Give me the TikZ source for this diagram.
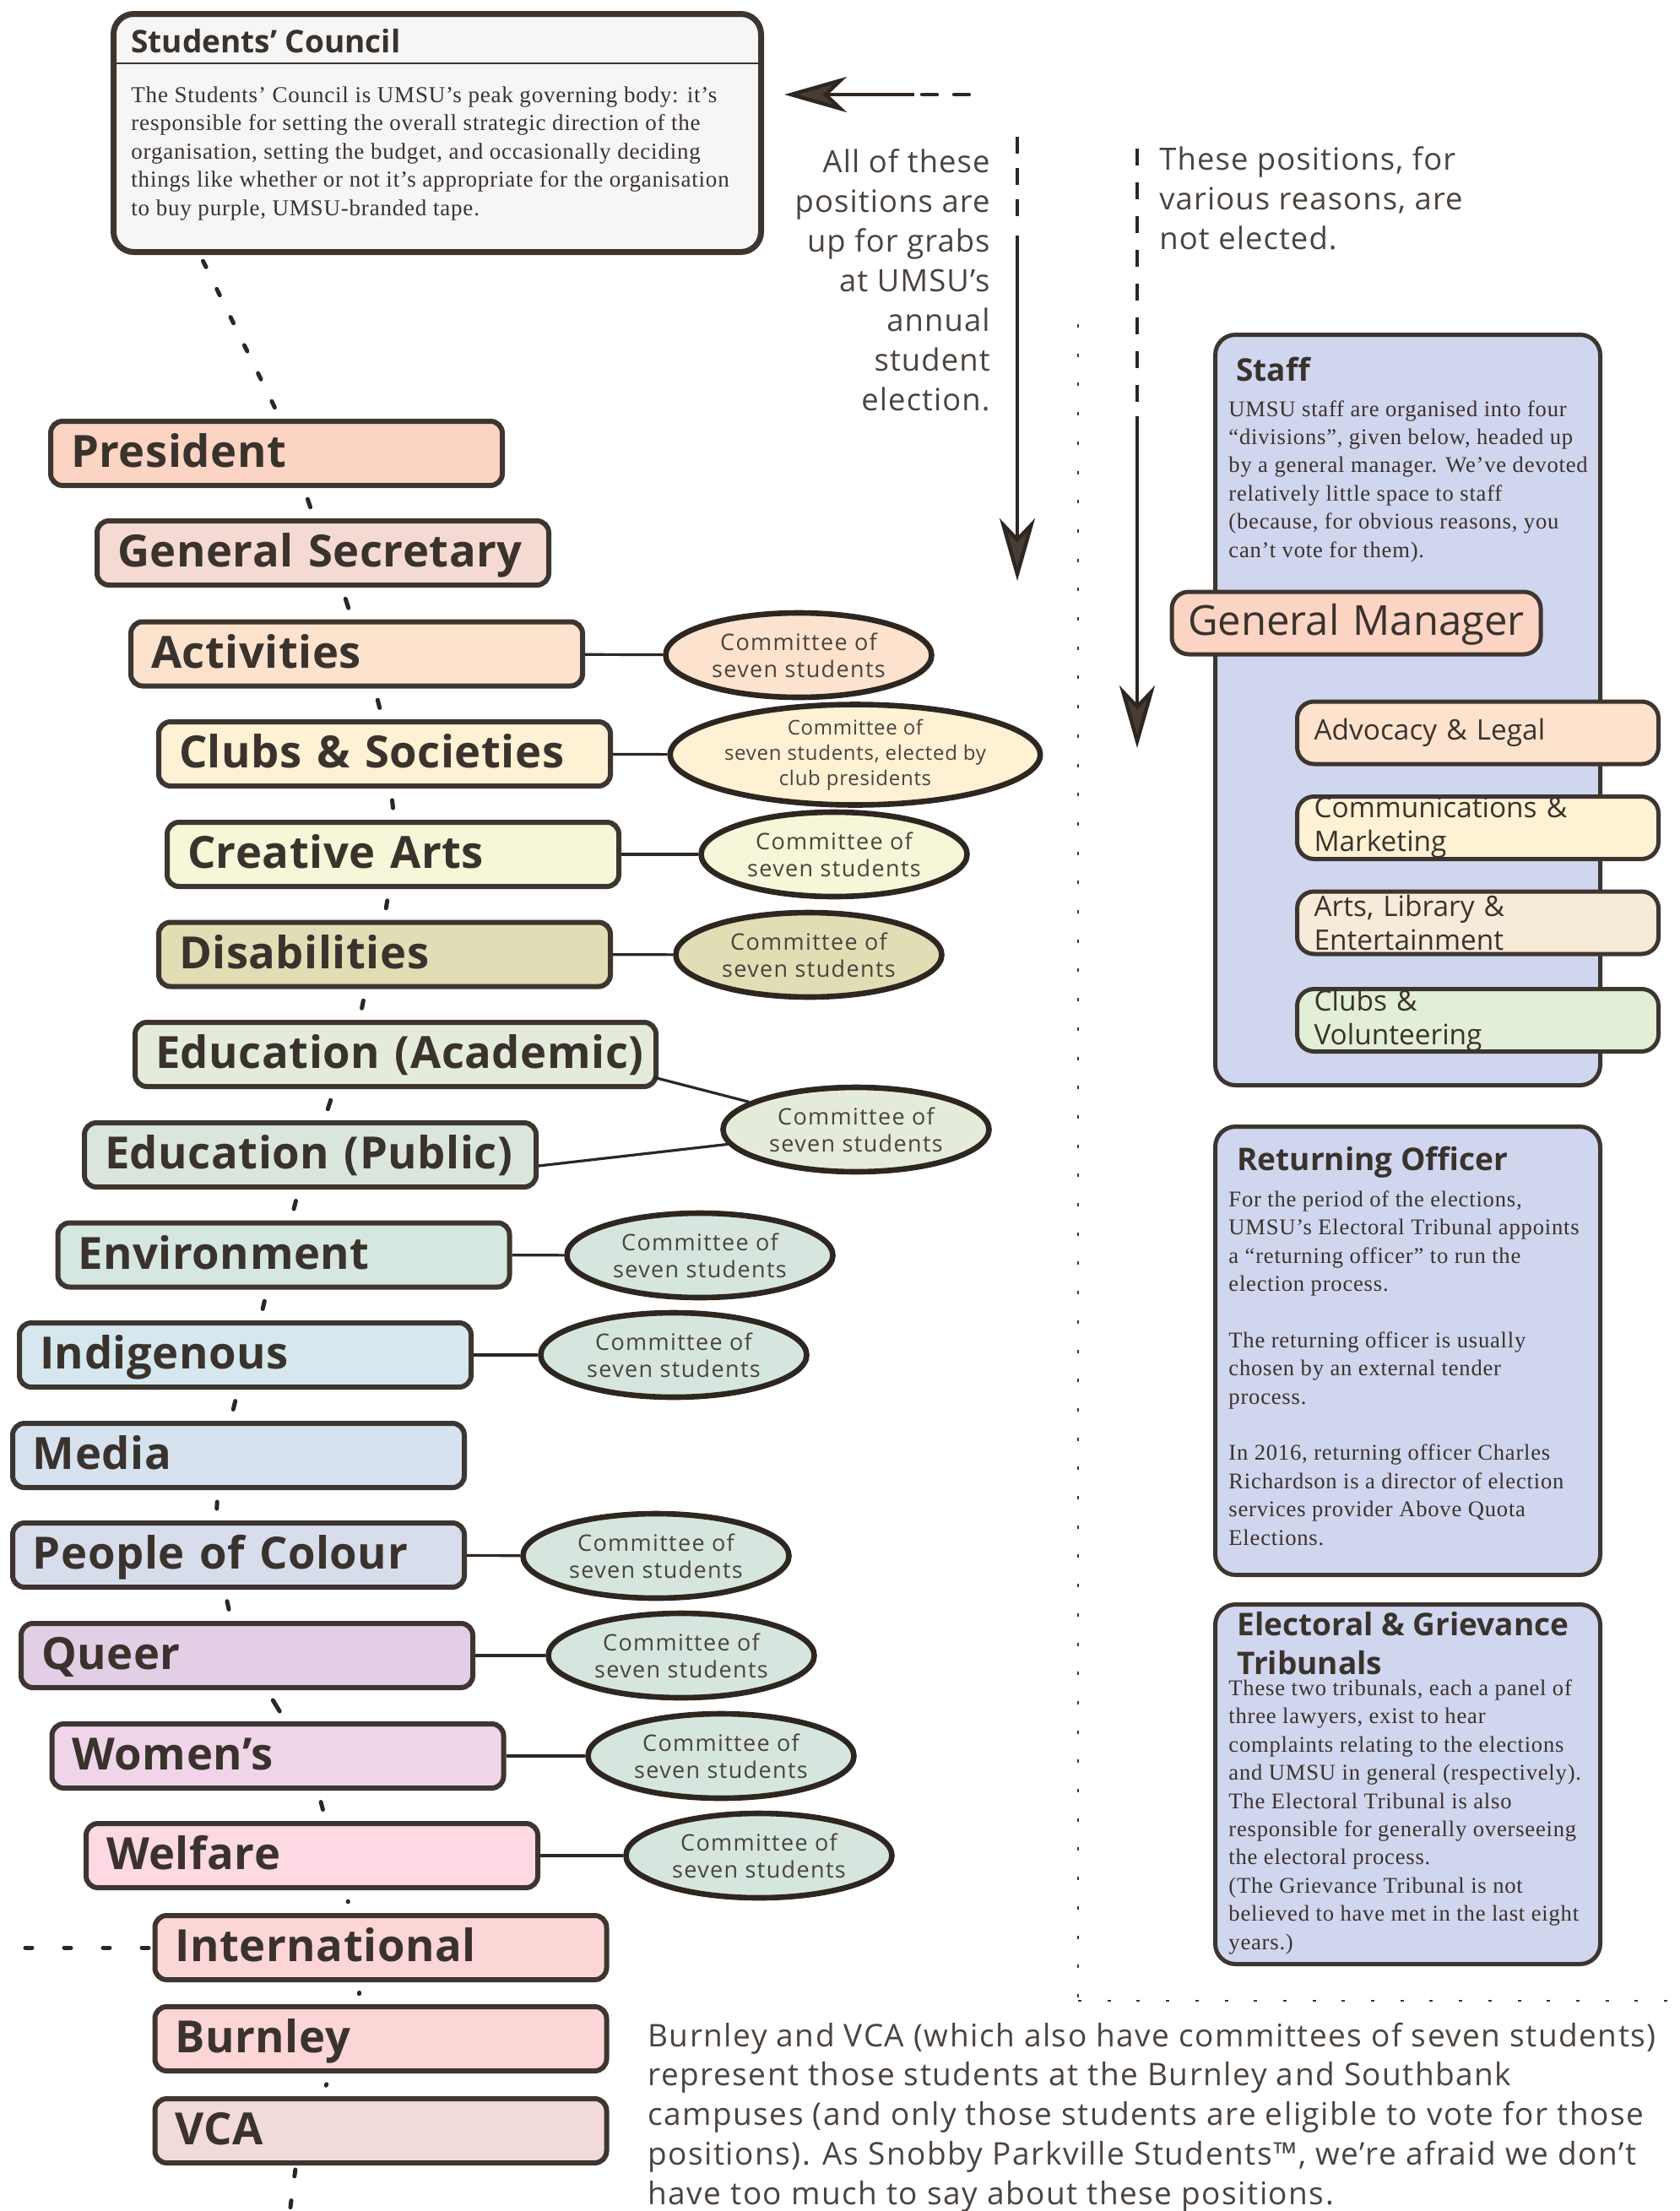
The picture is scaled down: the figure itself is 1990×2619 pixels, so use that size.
\documentclass[tikz,border=0pt]{standalone}
\usepackage{fontspec}
\setmainfont{Liberation Serif}
\newfontfamily\lab{Open Sans}
\newfontfamily\labb{Open Sans}[LetterSpace=1]
\newfontfamily\labw{Open Sans}[LetterSpace=3]
\newfontfamily\labe{Open Sans}[LetterSpace=5]
\newfontfamily\labp{Open Sans}[LetterSpace=4]
\newfontfamily\serw{Liberation Serif}[LetterSpace=3]
\usetikzlibrary{arrows.meta,calc,shapes.geometric}
\definecolor{dk}{HTML}{3D3530}
\definecolor{dkk}{HTML}{2E2620}
\definecolor{txt}{HTML}{3A322D}
\definecolor{ltxt}{HTML}{4A433E}
\definecolor{headc}{HTML}{463D35}
\definecolor{cCouncil}{HTML}{F6F6F6}
\definecolor{cPres}{HTML}{FCD4C4}
\definecolor{cGS}{HTML}{F4DAD2}
\definecolor{cAct}{HTML}{FDE3CD}
\definecolor{cClubs}{HTML}{FFF1D4}
\definecolor{cCreat}{HTML}{F6F6D8}
\definecolor{cDis}{HTML}{E1DEB5}
\definecolor{cEduA}{HTML}{E5EBDA}
\definecolor{cEduP}{HTML}{DAE6DC}
\definecolor{cEnv}{HTML}{D6E6E0}
\definecolor{cInd}{HTML}{D6E8EE}
\definecolor{cMed}{HTML}{D6E3EF}
\definecolor{cPoC}{HTML}{D7DDEA}
\definecolor{cQueer}{HTML}{E2CFE6}
\definecolor{cWom}{HTML}{F0D5E9}
\definecolor{cWel}{HTML}{FDD9E3}
\definecolor{cIntl}{HTML}{FCD6D6}
\definecolor{cVCA}{HTML}{F2D9DA}
\definecolor{cTeal}{HTML}{D6E6DF}
\definecolor{cBlue}{HTML}{D0D6EE}
\definecolor{cArts}{HTML}{F6EBD9}
\definecolor{cVol}{HTML}{E3EED6}
\tikzset{
  pbox/.style={draw=dk, line width=3pt, rounded corners=7pt, minimum height=38pt,
    inner xsep=12pt, inner ysep=0pt, text width=#1, align=left, text height=21.5pt, text depth=5pt,
    font=\labb\bfseries\fontsize{26.3}{30}\selectfont, text=txt},
  pbox/.default=243.5pt,
  comm/.style={ellipse, draw=dkk, line width=3.3pt, minimum width=157.5pt, minimum height=50pt,
    inner sep=0pt, align=center, font=\labe\fontsize{13.5}{16}\selectfont, text=ltxt},
  link/.style={draw=dkk, line width=1.6pt},
  gapd/.style={draw=dkk, line width=2.5pt, line cap=round, shorten <=7pt, shorten >=7pt},
  chain/.style={draw=dkk, line width=2.5pt, line cap=round, dash pattern=on 4pt off 14.5pt, dash phase=14.5pt},
  dotsep/.style={draw=dk, line width=1pt, dash pattern=on 2pt off 15.35pt},
  arr/.style={draw=dkk, line width=2.2pt},
  bighead/.style={-{Stealth[length=37pt, width=21pt, inset=11pt, fill=headc]}},
  bbox/.style={draw=dk, line width=2.5pt, rounded corners=12pt, fill=cBlue, inner sep=0pt},
  ttl/.style={anchor=base west, inner sep=0pt, font=\lab\bfseries\fontsize{18.5}{23}\selectfont, text=txt, align=left},
  body/.style={anchor=base west, inner sep=0pt, font=\serw\fontsize{13.3}{16.7}\selectfont, text=txt, align=left},
  dbox/.style={draw=dk, line width=2.5pt, rounded corners=10pt, minimum height=37pt, inner xsep=10pt, inner ysep=0pt,
    text width=194pt, align=left, font=\lab\fontsize{16.7}{20}\selectfont, text=txt},
  note/.style={inner sep=0pt, font=\labw\fontsize{18.2}{23.5}\selectfont, text=ltxt}
}
\begin{document}
\begin{tikzpicture}[x=0.5pt, y=-0.5pt]
\useasboundingbox (0,0) rectangle (1990,2619);

% Students' Council
\node[draw=dk, line width=3.5pt, rounded corners=12pt, fill=cCouncil, minimum width=383.5pt, minimum height=141pt, inner sep=0pt] (council) at (518,157.5) {};
\coordinate (hsep) at (0,75);
\draw[dk, line width=1.2pt] (council.west |- hsep) -- (council.east |- hsep);
\node[ttl] (counciltitle) at (155,62) {Students’ Council};
\node[body, font=\serw\fontsize{13.5}{16.7}\selectfont] (councilbody) at (155,255) {The Students’ Council is UMSU’s peak governing body: it’s\\responsible for setting the overall strategic direction of the\\organisation, setting the budget, and occasionally deciding\\things like whether or not it’s appropriate for the organisation\\to buy purple, UMSU-branded tape.};

% Elected positions
\node[pbox, fill=cPres] (pres) at (327.5,537) {President};
\node[pbox, fill=cGS] (gs) at (382.5,655) {General Secretary};
\node[pbox, fill=cAct] (act) at (422.5,774.5) {Activities};
\node[pbox, fill=cClubs] (clubs) at (455.5,893) {Clubs \& Societies};
\node[pbox, fill=cCreat] (creat) at (465.5,1012) {Creative Arts};
\node[pbox, fill=cDis] (dis) at (455.5,1130.5) {Disabilities};
\node[pbox=284.5pt, fill=cEduA] (eduA) at (468.5,1249) {\mbox{Education (Academic)}};
\node[pbox, fill=cEduP] (eduP) at (367.5,1368) {Education (Public)};
\node[pbox, fill=cEnv] (env) at (336,1486.5) {Environment};
\node[pbox, fill=cInd] (ind) at (290.5,1605) {Indigenous};
\node[pbox, fill=cMed] (med) at (282.5,1724) {Media};
\node[pbox, fill=cPoC] (poc) at (282.5,1842) {People of Colour};
\node[pbox, fill=cQueer] (queer) at (292.5,1961) {Queer};
\node[pbox, fill=cWom] (wom) at (329,2080) {Women’s};
\node[pbox, fill=cWel] (wel) at (369.5,2198) {Welfare};
\node[pbox, fill=cIntl] (intl) at (451,2307) {International};
\node[pbox, fill=cIntl] (bur) at (451,2415) {Burnley};
\node[pbox, fill=cVCA] (vca) at (451,2524) {VCA};

% Committees
\node[comm, fill=cAct] (actC) at (946,776) {Committee of\\seven students};
\node[comm, fill=cClubs, minimum width=203pt, minimum height=51.5pt, font=\labw\fontsize{12}{15}\selectfont] (clubsC) at (1013,894) {Committee of\\seven students, elected by\\club presidents};
\node[comm, fill=cCreat] (creatC) at (988,1012) {Committee of\\seven students};
\node[comm, fill=cDis] (disC) at (958,1131) {Committee of\\seven students};
\node[comm, fill=cEduA] (eduC) at (1014,1338) {Committee of\\seven students};
\node[comm, fill=cTeal] (envC) at (829,1487) {Committee of\\seven students};
\node[comm, fill=cTeal] (indC) at (798,1605) {Committee of\\seven students};
\node[comm, fill=cTeal] (pocC) at (777,1843) {Committee of\\seven students};
\node[comm, fill=cTeal] (queerC) at (807,1961) {Committee of\\seven students};
\node[comm, fill=cTeal] (womC) at (854,2080) {Committee of\\seven students};
\node[comm, fill=cTeal] (welC) at (899,2198) {Committee of\\seven students};

\draw[link] (act) -- (actC);
\draw[link] (clubs) -- (clubsC);
\draw[link] (creat) -- (creatC);
\draw[link] (dis) -- (disC);
\draw[link] ($(eduA.south east)+(-6,-14)$) -- (eduC);
\draw[link] ($(eduP.east)+(0,13)$) -- (eduC);
\draw[link] (env) -- (envC);
\draw[link] (ind) -- (indC);
\draw[link] (poc) -- (pocC);
\draw[link] (queer) -- (queerC);
\draw[link] (wom) -- (womC);
\draw[link] (wel) -- (welC);

% chain of positions
\draw[chain] ($(council.south west)+(106,0)$) -- ($(pres.north west)+(275,0)$);
\draw[gapd] ($(pres.south west)+(303,0)$) -- ($(gs.north west)+(260,0)$);
\draw[gapd] ($(gs.south west)+(293,0)$) -- ($(act.north west)+(265,0)$);
\draw[gapd] ($(act.south west)+(292,0)$) -- ($(clubs.north west)+(268,0)$);
\draw[gapd] ($(clubs.south west)+(278,0)$) -- ($(creat.north west)+(272,0)$);
\draw[gapd] ($(creat.south west)+(266,0)$) -- ($(dis.north west)+(270,0)$);
\draw[gapd] ($(dis.south west)+(248,0)$) -- ($(eduA.north west)+(269,0)$);
\draw[gapd] ($(eduA.south west)+(239,0)$) -- ($(eduP.north west)+(287,0)$);
\draw[gapd] ($(eduP.south west)+(257,0)$) -- ($(env.north west)+(279,0)$);
\draw[gapd] ($(env.south west)+(251,0)$) -- ($(ind.north west)+(288,0)$);
\draw[gapd] ($(ind.south west)+(262,0)$) -- ($(med.north west)+(261,0)$);
\draw[gapd] ($(med.south west)+(246,0)$) -- ($(poc.north west)+(244,0)$);
\draw[gapd] ($(poc.south west)+(254,0)$) -- ($(queer.north west)+(252,0)$);
\draw[gapd] ($(queer.south west)+(294,0)$) -- ($(wom.north west)+(280,0)$);
\draw[gapd] ($(wom.south west)+(318,0)$) -- ($(wel.north west)+(287,0)$);
\draw[gapd] ($(wel.south west)+(311,0)$) -- ($(intl.north west)+(234,0)$);
\draw[gapd] ($(intl.south west)+(248,0)$) -- ($(bur.north west)+(242,0)$);
\draw[gapd] ($(bur.south west)+(212,0)$) -- ($(vca.north west)+(200,0)$);
\coordinate (chainend) at (338,2660);
\draw[chain, dash phase=16pt] ($(vca.south west)+(170,0)$) -- (chainend);
\coordinate (intlleft) at (30,2307);
\draw[draw=dkk, line width=2.5pt, line cap=round, dash pattern=on 4pt off 19pt] (intlleft) -- (intl.west);

% arrows and notes
\coordinate (hA) at (1148,112);
\coordinate (hB) at (1085,112);
\coordinate (hC) at (1083,112);
\coordinate (hTip) at (929,112);
\draw[arr, line cap=round, dash pattern=on 9pt off 10pt] (hA) -- (hB);
\draw[arr, bighead] (hC) -- (hTip);

\coordinate (v1a) at (1205,162);
\coordinate (v1b) at (1205,272);
\coordinate (v1c) at (1205,279);
\coordinate (v1tip) at (1205,688);
\draw[arr, dash pattern=on 10pt off 8.5pt] (v1a) -- (v1b);
\draw[arr, bighead] (v1c) -- (v1tip);

\coordinate (v2a) at (1347,176);
\coordinate (v2b) at (1347,480);
\coordinate (v2c) at (1347,493);
\coordinate (v2tip) at (1347,886);
\draw[arr, dash pattern=on 10pt off 10pt] (v2a) -- (v2b);
\draw[arr, bighead] (v2c) -- (v2tip);

\node[note, anchor=base east, align=right] (elected) at (1173,486) {All of these\\positions are\\up for grabs\\at UMSU’s\\annual\\student\\election.};
\node[note, anchor=base west, align=left] (notelected) at (1373,295) {These positions, for\\various reasons, are\\not elected.};

% separator
\coordinate (sepTop) at (1277,384);
\coordinate (sepCorner) at (1277,2370);
\coordinate (sepEnd) at (1975,2370);
\draw[dotsep] (sepTop) -- (sepCorner);
\draw[dotsep] (sepCorner) -- (sepEnd);

% Staff
\node[bbox, minimum width=228pt, minimum height=444.5pt] (staff) at (1667.5,841) {};
\node[ttl] (stafftitle) at (1464,451) {Staff};
\node[body] (staffbody) at (1455,660) {UMSU staff are organised into four\\“divisions”, given below, headed up\\by a general manager. We’ve devoted\\relatively little space to staff\\(because, for obvious reasons, you\\can’t vote for them).};
\node[draw=dk, line width=2.5pt, rounded corners=10pt, fill=cPres, minimum height=37pt, inner xsep=9.5pt, inner ysep=0pt, text width=199.5pt, align=left, text height=18pt, text depth=4pt, font=\lab\fontsize{24.5}{28}\selectfont, text=txt] (gm) at (1606.5,738) {General Manager};
\node[dbox, fill=cAct] (adv) at (1750.5,868) {Advocacy \& Legal};
\node[dbox, fill=cClubs] (comms) at (1750.5,980.5) {Communications \&\\Marketing};
\node[dbox, fill=cArts] (arts) at (1750.5,1093) {Arts, Library \&\\Entertainment};
\node[dbox, fill=cVol] (vol) at (1750.5,1208.5) {Clubs \&\\Volunteering};

% Returning officer
\node[bbox, minimum width=228pt, minimum height=265.5pt] (ret) at (1667.5,1600) {};
\node[ttl] (rettitle) at (1465,1386) {Returning Officer};
\node[body] (retbody) at (1455,1830) {For the period of the elections,\\UMSU’s Electoral Tribunal appoints\\a “returning officer” to run the\\election process.\\[16.7pt]The returning officer is usually\\chosen by an external tender\\process.\\[16.7pt]In 2016, returning officer Charles\\Richardson is a director of election\\services provider Above Quota\\Elections.};

% Tribunals
\node[bbox, minimum width=228pt, minimum height=213pt] (trib) at (1667.5,2113.5) {};
\node[ttl] (tribtitle) at (1465,1983) {Electoral \& Grievance\\Tribunals};
\node[body] (tribbody) at (1455,2309) {These two tribunals, each a panel of\\three lawyers, exist to hear\\complaints relating to the elections\\and UMSU in general (respectively).\\The Electoral Tribunal is also\\responsible for generally overseeing\\the electoral process.\\(The Grievance Tribunal is not\\believed to have met in the last eight\\years.)};

% bottom paragraph
\node[note, anchor=base west, align=left, font=\labp\fontsize{18.5}{23.35}\selectfont] (para) at (767,2611) {Burnley and VCA (which also have committees of seven students)\\represent those students at the Burnley and Southbank\\campuses (and only those students are eligible to vote for those\\positions). As Snobby Parkville Students™, we’re afraid we don’t\\have too much to say about these positions.};
\end{tikzpicture}
\end{document}
